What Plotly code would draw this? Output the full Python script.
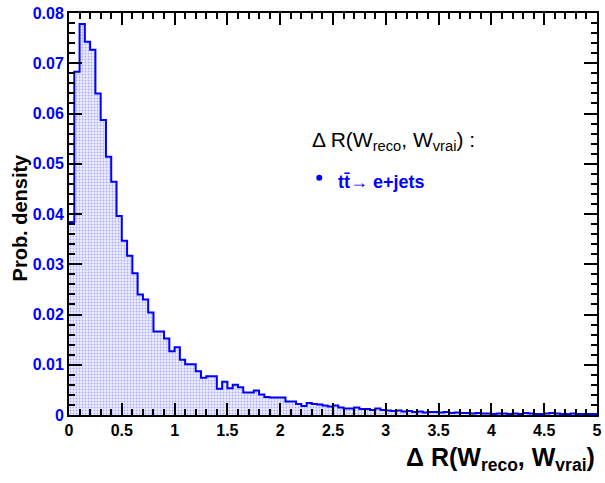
import plotly.graph_objects as go

# ---------------- data ----------------
BIN_WIDTH = 0.05
X_MIN, X_MAX = 0.0, 5.0
# probability density per bin (0-0.05, 0.05-0.10, ... 4.95-5.00)
density = [
    0.0384, 0.0683, 0.0778, 0.0743, 0.0727, 0.0640, 0.0587, 0.0514, 0.0464, 0.0396,
    0.0347, 0.0317, 0.0282, 0.0240, 0.0230, 0.0204, 0.0166, 0.0166, 0.0152, 0.0127,
    0.0135, 0.0110, 0.0101, 0.0101, 0.0087, 0.0074, 0.0077, 0.0077, 0.0052, 0.0066,
    0.0053, 0.0060, 0.0055, 0.0045, 0.0045, 0.0049, 0.0041, 0.0036, 0.0035, 0.0035,
    0.0035, 0.0027, 0.0027, 0.0022, 0.0018, 0.0024, 0.0022, 0.0021, 0.0019, 0.0017,
    0.0019, 0.0015, 0.0013, 0.0013, 0.0015, 0.0012, 0.0012, 0.0010, 0.0013, 0.0010,
    0.0009, 0.0008, 0.0009, 0.0007, 0.0008, 0.0006, 0.0007, 0.0005, 0.0006, 0.0006,
    0.0005, 0.0006, 0.0004, 0.0005, 0.0004, 0.0004, 0.0003, 0.0004, 0.0003, 0.0003,
    0.0002, 0.0003, 0.0003, 0.0002, 0.0003, 0.0002, 0.0004, 0.0003, 0.0002, 0.0002,
    0.0003, 0.0004, 0.0003, 0.0002, 0.0002, 0.0003, 0.0002, 0.0002, 0.0002, 0.0002,
]
x_tick_vals = [0, 0.5, 1, 1.5, 2, 2.5, 3, 3.5, 4, 4.5, 5]
x_tick_text = ["0", "0.5", "1", "1.5", "2", "2.5", "3", "3.5", "4", "4.5", "5"]
y_tick_vals = [0, 0.01, 0.02, 0.03, 0.04, 0.05, 0.06, 0.07, 0.08]
y_tick_text = ["0", "0.01", "0.02", "0.03", "0.04", "0.05", "0.06", "0.07", "0.08"]

x_title = "Δ R(W<sub>reco</sub>, W<sub>vrai</sub>)"
y_title = "Prob. density"
legend_header = "Δ R(W<sub>reco</sub>, W<sub>vrai</sub>) :"
legend_entry = "tt\u0304\u2192 e+jets"

# ---------------- figure ----------------
edges = [X_MIN + i * BIN_WIDTH for i in range(len(density))] + [X_MAX]
step_y = density + [density[-1]]

FONT = "Liberation Sans, Arial, Helvetica, sans-serif"
BLUE = "#0000ff"

fig = go.Figure()
fig.add_trace(go.Scatter(
    x=edges, y=step_y, mode="lines", line_shape="hv",
    line=dict(color=BLUE, width=2),
    fill="tozeroy",
    fillcolor="rgba(210,210,250,1)",
    fillpattern=dict(shape=".", fgcolor="#6a6aff", bgcolor="#ececff",
                     size=3, solidity=0.3),
    hoverinfo="skip", showlegend=False,
))

# legend marker
fig.add_trace(go.Scatter(
    x=[2.37], y=[0.0472], mode="markers",
    marker=dict(color=BLUE, size=6), showlegend=False, hoverinfo="skip",
))

axis_common = dict(
    showgrid=False, zeroline=False, showline=True, linecolor="black",
    linewidth=2, mirror="allticks", ticks="inside", tickcolor="black",
    tickwidth=1.5, ticklabeloverflow="allow",
)

fig.update_layout(
    width=605, height=483,
    margin=dict(l=69, r=3, t=13, b=68),
    paper_bgcolor="white", plot_bgcolor="white",
    font=dict(family=FONT, color="black"),
    xaxis=dict(
        range=[X_MIN, X_MAX], tickvals=x_tick_vals, ticktext=x_tick_text,
        ticklen=12,
        minor=dict(dtick=0.1, ticklen=6, ticks="inside", tickcolor="black",
                   tickwidth=1.5, showgrid=False),
        tickfont=dict(family=FONT, size=16, color="black", weight="bold"),
        **axis_common,
    ),
    yaxis=dict(
        range=[0, 0.08], tickvals=y_tick_vals, ticktext=y_tick_text,
        ticklen=13,
        minor=dict(dtick=0.002, ticklen=6, ticks="inside", tickcolor="black",
                   tickwidth=1.5, showgrid=False),
        tickfont=dict(family=FONT, size=16, color=BLUE, weight="bold"),
        **axis_common,
    ),
)

# axis titles
fig.add_annotation(
    text=x_title, xref="paper", yref="paper", x=1.0, y=0,
    xanchor="right", yanchor="middle", yshift=-44, xshift=0, showarrow=False,
    font=dict(family=FONT, size=25, color="black", weight="bold"),
)
fig.add_annotation(
    text=y_title, xref="paper", yref="paper", x=(20 - 69) / 533,
    y=(415 - 217) / 402, xanchor="center", yanchor="middle",
    textangle=-90, showarrow=False,
    font=dict(family=FONT, size=20, color="black", weight="bold"),
)

# legend texts
fig.add_annotation(
    text=legend_header, x=2.28, y=0.0545, xanchor="left", yanchor="middle",
    showarrow=False, font=dict(family=FONT, size=21, color="black"),
)
fig.add_annotation(
    text=legend_entry, x=2.53, y=0.0463, xanchor="left", yanchor="middle",
    showarrow=False, font=dict(family=FONT, size=18, color=BLUE, weight="bold"),
)

fig.write_html("out.html", config={"displayModeBar": False},
               post_script="document.body.style.margin='0';")
